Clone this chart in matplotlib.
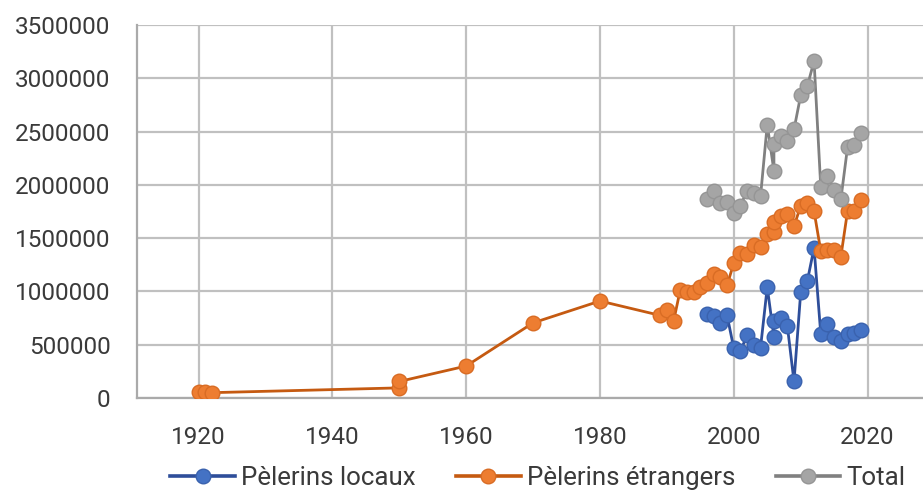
import matplotlib
matplotlib.use("Agg")
import matplotlib.pyplot as plt
from matplotlib.lines import Line2D

plt.rcParams['font.family'] = ['Roboto', 'DejaVu Sans']

# Foreign pilgrims (Pèlerins étrangers)
years_foreign = [1920, 1921, 1922, 1950, 1950, 1960, 1970, 1980,
                 1989, 1990, 1991, 1992, 1993, 1994, 1995,
                 1996, 1997, 1998, 1999, 2000, 2001, 2002, 2003, 2004, 2005,
                 2006, 2006, 2007, 2008, 2009, 2010, 2011, 2012, 2013, 2014,
                 2015, 2016, 2017, 2018, 2019]
foreign = [58000, 55000, 50000, 95000, 155000, 300000, 705000, 910000,
           775000, 830000, 720000, 1015000, 993000, 997000, 1046000,
           1080000, 1168000, 1132000, 1057000, 1267000, 1364000, 1354000, 1431000, 1420000, 1535000,
           1557000, 1654000, 1708000, 1730000, 1614000, 1800000, 1828000, 1753000, 1380000, 1389000,
           1385000, 1325000, 1752000, 1759000, 1855000]

# Local pilgrims and total
years_recent = [1996, 1997, 1998, 1999, 2000, 2001, 2002, 2003, 2004, 2005,
                2006, 2006, 2007, 2008, 2009, 2010, 2011, 2012, 2013, 2014,
                2015, 2016, 2017, 2018, 2019]
local = [785000, 774000, 700000, 775000, 466000, 441000, 591000, 493000, 473000, 1040000,
         573000, 724000, 747000, 679000, 155000, 990000, 1100000, 1409000, 601000, 696000,
         568000, 538000, 600000, 613000, 634000]
total = [1865000, 1943000, 1832000, 1839000, 1734000, 1805000, 1945000, 1924000, 1893000, 2565000,
         2130000, 2379000, 2454000, 2409000, 2520000, 2840000, 2928000, 3162000, 1980000, 2085000,
         1953000, 1863000, 2352000, 2372000, 2489000]

x_ticks = [1920, 1940, 1960, 1980, 2000, 2020]
y_ticks = [0, 500000, 1000000, 1500000, 2000000, 2500000, 3000000, 3500000]

fig = plt.figure(figsize=(9.23, 4.98), dpi=100)
ax = fig.add_axes([137/923, 100/498, 797.5/923, 373/498])

ms = 10.5
lw = 2.0
styles = {
    'local': dict(color='#2E4E9A', mfc='#4472C4', mec='#3A62AE'),
    'foreign': dict(color='#C55A11', mfc='#ED7D31', mec='#D96C24'),
    'total': dict(color='#808080', mfc='#A5A5A5', mec='#959595'),
}
ax.plot(years_recent, local, lw=lw, marker='o', ms=ms, mew=1.0,
        label='Pèlerins locaux', zorder=3, **styles['local'])
ax.plot(years_foreign, foreign, lw=lw, marker='o', ms=ms, mew=1.0,
        label='Pèlerins étrangers', zorder=3, **styles['foreign'])
ax.plot(years_recent, total, lw=lw, marker='o', ms=ms, mew=1.0,
        label='Total', zorder=3, **styles['total'])

ax.set_xlim(1910.8, 2030)
ax.set_ylim(0, 3500000)
ax.set_xticks(x_ticks)
ax.set_yticks(y_ticks)
ax.set_yticklabels([str(v) for v in y_ticks])
ax.grid(True, color='#C0C0C0', lw=1.6, zorder=0)
ax.set_axisbelow(True)
for s in ['top', 'right']:
    ax.spines[s].set_visible(False)
for s in ['left', 'bottom']:
    ax.spines[s].set_color('#AAAAAA')
    ax.spines[s].set_linewidth(1.6)
ax.tick_params(axis='both', length=0, labelsize=17.5, labelcolor='#3A3A3A')
ax.tick_params(axis='y', pad=19)
ax.tick_params(axis='x', pad=20)

handles = [Line2D([], [], lw=2.6, marker='o', ms=ms, **styles[k])
           for k in ['local', 'foreign', 'total']]
leg = fig.legend(handles, ['Pèlerins locaux', 'Pèlerins étrangers', 'Total'],
                 loc='center', bbox_to_anchor=(538/923, 1 - 478/498), ncol=3,
                 frameon=False, fontsize=18.6, handlelength=2.5, handletextpad=0.25,
                 columnspacing=1.55, borderaxespad=0)
for t in leg.get_texts():
    t.set_color('#3A3A3A')

fig.savefig('out.png', dpi=100)
